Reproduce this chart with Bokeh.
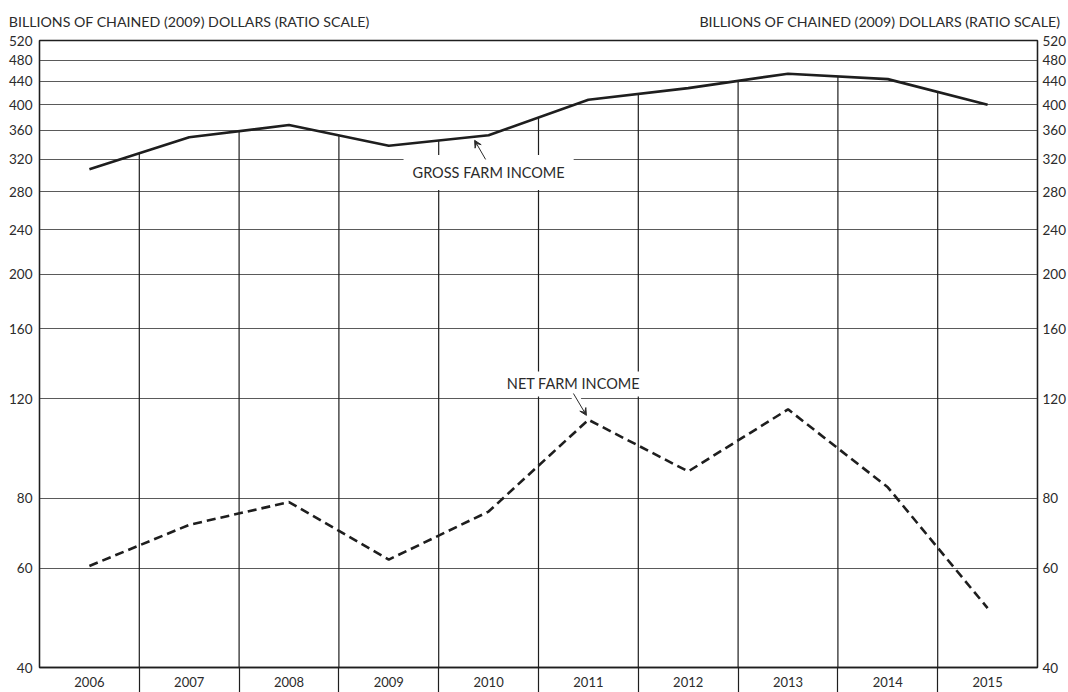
import math
from bokeh.plotting import figure
from bokeh.models import (FixedTicker, LogAxis, LinearAxis, Label, Arrow, VeeHead,
                          NumeralTickFormatter, Range1d)
from bokeh.embed import file_html
from bokeh.resources import INLINE

# ---- data ----
years = [2006, 2007, 2008, 2009, 2010, 2011, 2012, 2013, 2014, 2015]
year_labels = [str(y) for y in years]
gross_farm_income = [307, 350, 368, 338, 353, 408, 428, 454, 444, 400]
net_farm_income = [60.6, 71.7, 78.7, 62.2, 75.7, 110.2, 89.2, 115.0, 83.6, 51.0]
y_ticks = [40, 60, 80, 120, 160, 200, 240, 280, 320, 360, 400, 440, 480, 520]
axis_title = "BILLIONS OF CHAINED (2009) DOLLARS (RATIO SCALE)"
gross_label = "GROSS FARM INCOME"
net_label = "NET FARM INCOME"

FONT = "Lato"
TXT = "#2b2b2b"
LINE = "#1e1e1e"
GRID = "#5a5a5a"

y0, y1 = y_ticks[0], y_ticks[-1]
x0, x1 = years[0] - 0.5, years[-1] + 0.5

p = figure(width=1068, height=692, x_range=Range1d(x0, x1), y_range=Range1d(y0, y1),
           y_axis_type="log", output_backend="svg", toolbar_location=None,
           min_border_left=39, min_border_right=30, min_border_top=40,
           min_border_bottom=25)
p.background_fill_color = "white"
p.border_fill_color = "white"
p.outline_line_color = LINE
p.outline_line_width = 1.3

# horizontal grid
p.xgrid.visible = False
p.ygrid.ticker = FixedTicker(ticks=y_ticks[1:-1])
p.ygrid.grid_line_color = GRID
p.ygrid.grid_line_width = 1.2

# x axis: labels at year centres, minor ticks (boundaries) extended downwards
boundaries = [y + 0.5 for y in years[:-1]]
xa = p.xaxis[0]
xa.ticker = FixedTicker(ticks=years, minor_ticks=boundaries)
xa.major_label_overrides = {y: l for y, l in zip(years, year_labels)}
xa.major_tick_out = 0
xa.major_tick_in = 0
xa.minor_tick_out = 25
xa.minor_tick_in = 0
xa.minor_tick_line_color = LINE
xa.minor_tick_line_width = 1.2
xa.major_label_standoff = -16
xa.axis_line_color = LINE
xa.axis_line_width = 1.3
xa.major_label_text_font = FONT
xa.major_label_text_font_size = "13px"
xa.major_label_text_color = TXT

# y axes left + right
right_axis = LogAxis()
p.add_layout(right_axis, "right")
for ax, so in ((p.yaxis[0], 7), (right_axis, 5)):
    ax.ticker = FixedTicker(ticks=y_ticks)
    ax.formatter = NumeralTickFormatter(format="0")
    ax.major_tick_out = 0
    ax.major_tick_in = 0
    ax.minor_tick_out = 0
    ax.minor_tick_in = 0
    ax.major_label_standoff = so
    ax.axis_line_color = LINE
    ax.axis_line_width = 1.3
    ax.major_label_text_font = FONT
    ax.major_label_text_font_size = "13.5px"
    ax.major_label_text_color = TXT

# axis titles drawn as labels of an extra axis above the frame
title_pos = [2007.0, 2013.92]
top_axis = LinearAxis(ticker=FixedTicker(ticks=title_pos),
                      major_label_overrides={t: axis_title for t in title_pos})
top_axis.axis_line_color = None
top_axis.major_tick_line_color = None
top_axis.minor_tick_line_color = None
top_axis.major_tick_out = 0
top_axis.major_tick_in = 0
top_axis.minor_tick_out = 0
top_axis.minor_tick_in = 0
top_axis.major_label_standoff = 11
top_axis.major_label_text_font = FONT
top_axis.major_label_text_font_size = "14.2px"
top_axis.major_label_text_color = TXT
p.add_layout(top_axis, "above")

# vertical grid lines rising from the bottom up to the gross income line
tops = [math.sqrt(gross_farm_income[i] * gross_farm_income[i + 1]) for i in range(len(years) - 1)]
p.segment(x0=boundaries, y0=[y0] * len(boundaries), x1=boundaries, y1=tops,
          line_color=LINE, line_width=1.2)

# series
p.line(years, gross_farm_income, line_color=LINE, line_width=2.6)
p.line(years, net_farm_income, line_color=LINE, line_width=2.6, line_dash="9 5")

# series labels with white boxes
p.add_layout(Label(x=2010.0, y=303, text=gross_label, text_align="center",
                   text_baseline="middle", text_font=FONT, text_font_size="14.5px",
                   text_color=TXT, background_fill_color="white", padding=9))
p.add_layout(Label(x=2010.85, y=127.6, text=net_label, text_align="center",
                   text_baseline="middle", text_font=FONT, text_font_size="14.5px",
                   text_color=TXT, background_fill_color="white", padding=4))

# arrows
p.add_layout(Arrow(x_start=2009.97, y_start=319.7, x_end=2009.86, y_end=345.6,
                   line_color=TXT, line_width=1,
                   end=VeeHead(size=7, fill_color=TXT, line_color=TXT)))
p.add_layout(Arrow(x_start=2010.85, y_start=122.7, x_end=2010.98, y_end=112.2,
                   line_color="white", line_width=8, end=None))
p.add_layout(Arrow(x_start=2010.85, y_start=122.7, x_end=2010.98, y_end=112.2,
                   line_color=TXT, line_width=1,
                   end=VeeHead(size=7, fill_color=TXT, line_color=TXT)))

open("out.html", "w").write(file_html(p, INLINE))
